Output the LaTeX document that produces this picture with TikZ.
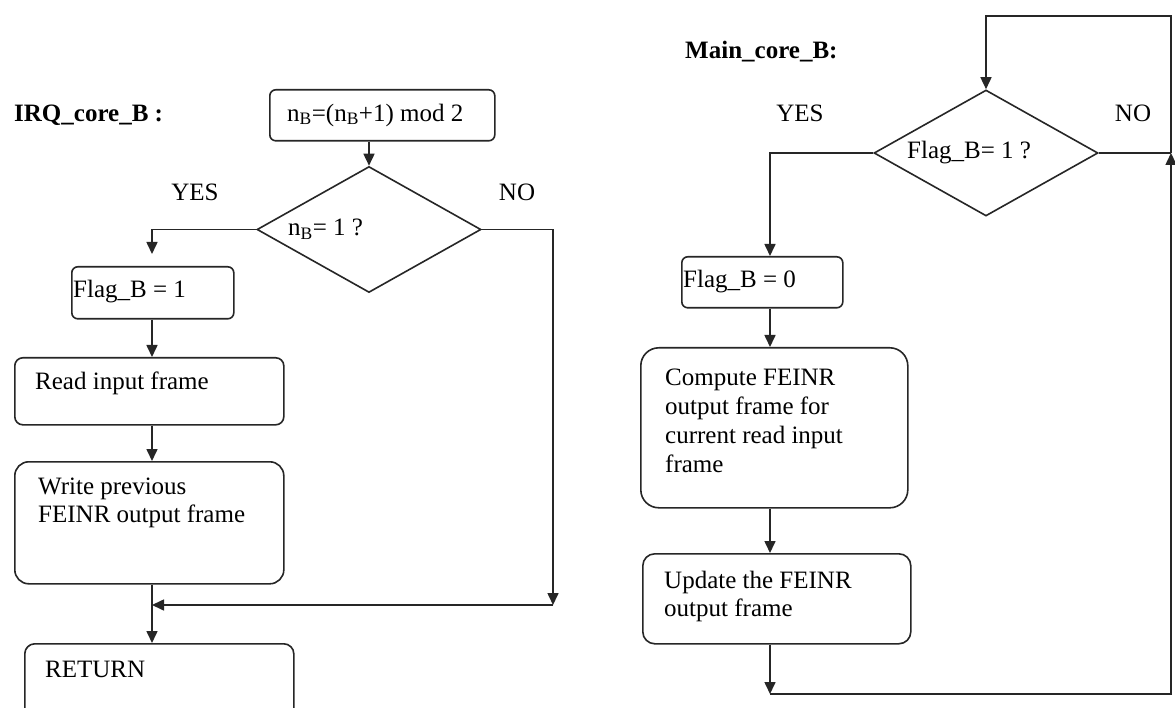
\documentclass[tikz,border=0pt]{standalone}
\usepackage{fontspec}
\setmainfont{Liberation Serif}
\usetikzlibrary{arrows.meta,shapes.geometric,calc}
\begin{document}
\begin{tikzpicture}[x=1pt,y=-1pt,
  line/.style={draw=black!85, line width=1.6pt},
  arr/.style={line, -{Triangle[length=12pt,width=11pt]}},
  box/.style={line, inner sep=0pt, anchor=north west},
  txt/.style={inner sep=0pt, anchor=west, align=left, font=\fontsize{25}{29}\selectfont},
  title/.style={inner sep=0pt, anchor=west, font=\fontsize{25}{29}\selectfont\bfseries},
  lbl/.style={inner sep=0pt, font=\fontsize{25}{29}\selectfont},
  dec/.style={line, shape=diamond, inner sep=0pt, minimum width=224pt, minimum height=126pt}]

\useasboundingbox[fill=white] (0,0) rectangle (1175,708);

% ---------------- IRQ_core_B ----------------
\node[title] (t1) at (14,115) {IRQ\_core\_B :};
\node[box, rounded corners=6pt, minimum width=225pt, minimum height=51pt] (nb) at (269,89) {};
\node[txt] (tnb) at (287,115) {n\textsubscript{B}=(n\textsubscript{B}+1) mod 2};

\node[dec] (d1) at (369,229.5) {};
\node[txt] (td1) at (288,229) {n\textsubscript{B}= 1 ?};
\node[lbl] (yes1) at (195,192) {YES};
\node[lbl] (no1) at (517,192) {NO};

\node[box, rounded corners=6pt, minimum width=162pt, minimum height=52pt] (flag1) at (71,266) {};
\node[txt] (tflag1) at (73,292) {Flag\_B = 1};

\node[box, rounded corners=8pt, minimum width=269pt, minimum height=67pt] (read) at (14,357) {};
\node[txt] (tread) at (35,383) {Read input frame};

\node[box, rounded corners=14pt, minimum width=269pt, minimum height=122pt] (write) at (14,461) {};
\node[txt, font=\fontsize{25}{28}\selectfont] (twrite) at (38,503) {Write previous\\FEINR output frame};

\node[box, rounded corners=10pt, minimum width=269pt, minimum height=95pt] (ret) at (24,643) {};
\node[txt] (tret) at (45,669) {RETURN};

\coordinate (lx) at (152,0);
\coordinate (cno) at (553,605);

\draw[arr] (d1.north |- nb.south) -- (d1.north);
\draw[arr, shorten >=12pt] (d1.west) -| (lx |- flag1.north);
\draw[arr] (lx |- flag1.south) -- (lx |- read.north);
\draw[arr] (lx |- read.south) -- (lx |- write.north);
\draw[arr] (lx |- write.south) -- (lx |- ret.north);
\draw[arr] (d1.east) -| (cno);
\draw[arr] (cno) -- (lx |- cno);

% ---------------- Main_core_B ----------------
\node[title] (t2) at (685,52) {Main\_core\_B:};

\node[dec] (d2) at (986,153) {};
\node[txt] (td2) at (907,153) {Flag\_B= 1 ?};
\node[lbl] (yes2) at (800,113) {YES};
\node[lbl] (no2) at (1133,113) {NO};

\node[box, rounded corners=6pt, minimum width=161pt, minimum height=51pt] (f0) at (681,256) {};
\node[txt] (tf0) at (683,282) {Flag\_B = 0};

\node[box, rounded corners=18pt, minimum width=267pt, minimum height=160pt] (comp) at (640,347) {};
\node[txt] (tcomp) at (665,421) {Compute FEINR\\output frame for\\current read input\\frame};

\node[box, rounded corners=12pt, minimum width=268pt, minimum height=90pt] (upd) at (642,553) {};
\node[txt, font=\fontsize{25}{28}\selectfont] (tupd) at (664,596) {Update the FEINR\\output frame};

\coordinate (rx) at (770,0);
\coordinate (cbot) at (770,694);
\coordinate (cbr) at (1171,694);
\coordinate (cj) at (1171,153);
\coordinate (ctop) at (1171,16);

\draw[arr] (d2.west) -| (rx |- f0.north);
\draw[arr] (rx |- f0.south) -- (rx |- comp.north);
\draw[arr] (rx |- comp.south) -- (rx |- upd.north);
\draw[arr] (rx |- upd.south) -- (cbot);
\draw[arr] (cbot) -- (cbr) -- (cj);
\draw[line] (d2.east) -- (cj);
\draw[arr] (cj) -- (ctop) -| (d2.north);
\end{tikzpicture}
\end{document}
